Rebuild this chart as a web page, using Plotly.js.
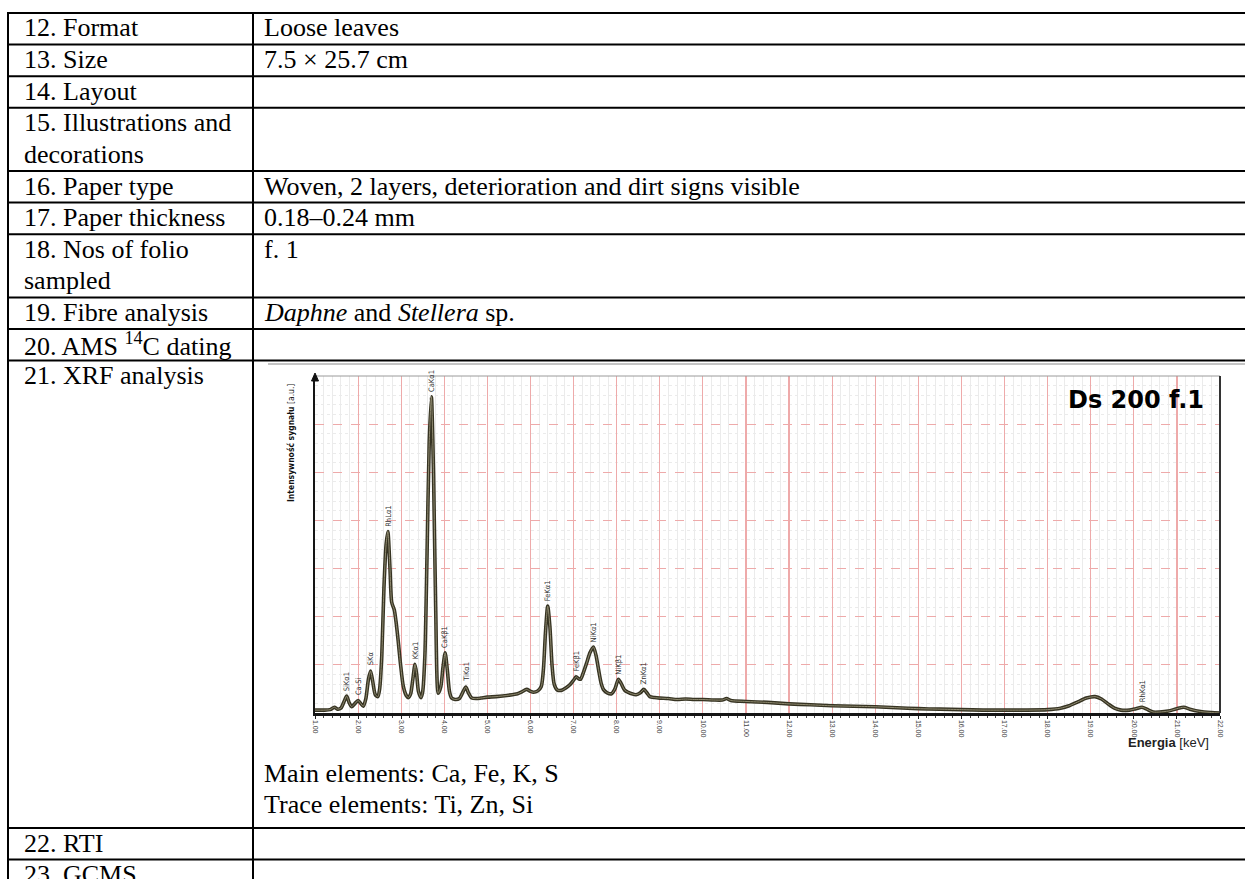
<!DOCTYPE html>
<html>
<head>
<meta charset="utf-8">
<script src="https://cdn.plot.ly/plotly-3.0.1.min.js"></script>
<style>
  html, body { margin: 0; padding: 0; background: #ffffff; }
  #chart { width: 1245px; height: 879px; }
</style>
</head>
<body>
<div id="chart"></div>
<script>
// ---------------- DATA ----------------
// XRF spectrum (energy in keV, intensity in arbitrary units, one unit = one major grid step)
const energy = [1.00, 1.20, 1.35, 1.45, 1.52, 1.60, 1.68, 1.735, 1.79, 1.85, 1.92, 2.00, 2.06, 2.12, 2.18, 2.24, 2.29, 2.34, 2.40, 2.46,
  2.50, 2.55, 2.60, 2.65, 2.69, 2.74, 2.78, 2.84, 2.88, 2.93, 2.98, 3.05, 3.12, 3.17, 3.22, 3.27, 3.32, 3.36, 3.40, 3.46,
  3.50, 3.55, 3.60, 3.65, 3.70, 3.75, 3.80, 3.86, 3.92, 3.97, 4.02, 4.07, 4.12, 4.17, 4.25, 4.35, 4.44, 4.50, 4.56, 4.64,
  4.75, 4.85, 5.00, 5.20, 5.50, 5.70, 5.80, 5.91, 6.00, 6.07, 6.17, 6.25, 6.30, 6.35, 6.40, 6.45, 6.50, 6.55, 6.62, 6.72,
  6.82, 6.92, 7.00, 7.06, 7.12, 7.16, 7.22, 7.30, 7.38, 7.46, 7.52, 7.58, 7.64, 7.70, 7.78, 7.88, 7.96, 8.04, 8.10, 8.19,
  8.27, 8.35, 8.45, 8.55, 8.63, 8.70, 8.77, 8.88, 9.00, 9.20, 9.40, 9.60, 9.80, 10.00, 10.25, 10.45, 10.55, 10.65, 11.00, 11.50,
  12.00, 12.50, 13.00, 13.50, 14.00, 14.50, 15.00, 15.50, 16.00, 16.50, 17.00, 17.50, 18.00, 18.30, 18.50, 18.70, 18.90, 19.10, 19.25, 19.40,
  19.55, 19.70, 19.90, 20.05, 20.19, 20.30, 20.45, 20.60, 20.80, 21.00, 21.16, 21.30, 21.55, 21.80, 22.00];
const intensity = [0.06, 0.06, 0.07, 0.12, 0.08, 0.10, 0.25, 0.35, 0.22, 0.13, 0.19, 0.26, 0.20, 0.14, 0.30, 0.70, 0.87, 0.65, 0.38, 0.34,
  0.50, 1.20, 2.60, 3.50, 3.77, 3.00, 2.30, 2.14, 1.90, 1.50, 1.05, 0.55, 0.36, 0.32, 0.40, 0.70, 1.01, 0.80, 0.45, 0.32,
  0.45, 1.20, 3.30, 5.60, 6.57, 5.00, 2.20, 0.41, 0.55, 0.95, 1.25, 0.90, 0.45, 0.31, 0.28, 0.30, 0.45, 0.54, 0.42, 0.31,
  0.30, 0.31, 0.33, 0.34, 0.37, 0.40, 0.44, 0.49, 0.45, 0.43, 0.46, 0.55, 0.90, 1.70, 2.22, 1.80, 1.00, 0.60, 0.48, 0.47,
  0.52, 0.59, 0.68, 0.75, 0.71, 0.70, 0.82, 1.03, 1.25, 1.37, 1.20, 0.90, 0.62, 0.48, 0.42, 0.40, 0.50, 0.70, 0.62, 0.47,
  0.43, 0.40, 0.38, 0.42, 0.49, 0.42, 0.34, 0.32, 0.31, 0.30, 0.28, 0.29, 0.28, 0.28, 0.27, 0.27, 0.30, 0.26, 0.24, 0.22,
  0.19, 0.17, 0.15, 0.14, 0.13, 0.11, 0.09, 0.08, 0.07, 0.06, 0.06, 0.06, 0.07, 0.10, 0.15, 0.23, 0.31, 0.34, 0.29, 0.19,
  0.10, 0.06, 0.06, 0.09, 0.12, 0.08, 0.02, 0.02, 0.04, 0.09, 0.12, 0.08, 0.03, 0.01, 0.00];

// Peak identifications
const peakNames = ["SiKα1", "Ca-Si", "SKα", "RhLα1", "KKα1", "CaKα1", "CaKβ1", "TiKα1", "FeKα1", "FeKβ1", "NiKα1", "NiKβ1", "ZnKα1", "RhKα1"];
const peakKeV   = [1.735, 2.00, 2.29, 2.69, 3.32, 3.70, 4.02, 4.50, 6.40, 7.06, 7.46, 8.04, 8.63, 20.19];
const peakVal   = [0.35, 0.27, 0.88, 3.77, 1.01, 6.57, 1.25, 0.54, 2.22, 0.75, 1.37, 0.70, 0.49, 0.12];

// Table content
const fieldLabels = [["12. Format"], ["13. Size"], ["14. Layout"], ["15. Illustrations and", "decorations"],
  ["16. Paper type"], ["17. Paper thickness"], ["18. Nos of folio", "sampled"], ["19. Fibre analysis"],
  ["20. AMS <sup>14</sup>C dating"], ["21. XRF analysis"], ["22. RTI"], ["23. GCMS"]];
const fieldValues = [["Loose leaves"], ["7.5 × 25.7 cm"], [""], [""],
  ["Woven, 2 layers, deterioration and dirt signs visible"], ["0.18–0.24 mm"], ["f. 1"],
  ["<i>Daphne</i> and <i>Stellera</i> sp."], [""], [""], [""], [""]];
const xrfNotes = ["Main elements: Ca, Fe, K, S", "Trace elements: Ti, Zn, Si"];
const chartTitle = "Ds 200 f.1";
const xTitle = "<b>Energia</b> [keV]";
const yTitle = "<b>Intensywność sygnału</b> [a.u.]";

// ---------------- LAYOUT HELPERS ----------------
const W = 1245, H = 879;
const px = x => x / W;
const py = y => 1 - y / H;

const rowEdges = [13, 44.6, 76.2, 107.8, 171, 202.6, 234.2, 297.4, 329, 360.6, 828, 859.6, 891];
const LINE = 31.6;
const leftX = 8, divX = 253;
const txtL = 22, txtR = 262;
const serif = "Liberation Serif, Times New Roman, serif";
const narrow = "Liberation Sans Narrow, Arial Narrow, DejaVu Sans Condensed, sans-serif";

const shapes = [];
const annotations = [];

// table lines
rowEdges.forEach(y => {
  if (y < H) shapes.push({type: 'line', xref: 'paper', yref: 'paper', x0: px(leftX - 1), x1: px(W), y0: py(y), y1: py(y),
    line: {color: '#000', width: 2}});
});
[leftX, divX].forEach(x => {
  shapes.push({type: 'line', xref: 'paper', yref: 'paper', x0: px(x), x1: px(x), y0: py(12), y1: py(H),
    line: {color: '#000', width: 2}});
});
// picture frame top edge (embedded chart image)
shapes.push({type: 'line', xref: 'paper', yref: 'paper', x0: px(268), x1: px(W), y0: py(364), y1: py(364),
  line: {color: '#b0b0b0', width: 1.5}});

// table text
fieldLabels.forEach((lines, i) => {
  lines.forEach((t, k) => {
    annotations.push({xref: 'paper', yref: 'paper', x: px(txtL), y: py(rowEdges[i] + 15 + k * LINE),
      xanchor: 'left', yanchor: 'middle', showarrow: false, text: t, font: {family: serif, size: 26, color: '#000'}});
  });
});
fieldValues.forEach((lines, i) => {
  lines.forEach((t, k) => {
    if (!t) return;
    annotations.push({xref: 'paper', yref: 'paper', x: px(txtR), y: py(rowEdges[i] + 15 + k * LINE),
      xanchor: 'left', yanchor: 'middle', showarrow: false, text: t, font: {family: serif, size: 26, color: '#000'}});
  });
});
xrfNotes.forEach((t, k) => {
  annotations.push({xref: 'paper', yref: 'paper', x: px(txtR), y: py(773 + k * LINE),
    xanchor: 'left', yanchor: 'middle', showarrow: false, text: t, font: {family: serif, size: 26, color: '#000'}});
});

// chart frame
const pL = 315, pR = 1220, pT = 376, pB = 713;
shapes.push({type: 'line', xref: 'paper', yref: 'paper', x0: px(pL), x1: px(pR), y0: py(pT), y1: py(pT),
  line: {color: '#9a9a9a', width: 1}});
shapes.push({type: 'line', xref: 'paper', yref: 'paper', x0: px(pR), x1: px(pR), y0: py(pT), y1: py(pB),
  line: {color: '#333', width: 2}});
// arrow at top of y axis
shapes.push({type: 'path', xref: 'paper', yref: 'paper',
  path: `M ${px(pL - 3.5)} ${py(381)} L ${px(pL)} ${py(373)} L ${px(pL + 3.5)} ${py(381)} Z`,
  fillcolor: '#111', line: {color: '#111', width: 1}});

// chart texts
annotations.push({xref: 'paper', yref: 'paper', x: px(1206), y: py(400), xanchor: 'right', yanchor: 'middle',
  showarrow: false, text: '<b>' + chartTitle + '</b>', font: {family: 'DejaVu Sans, sans-serif', size: 24, color: '#000'}});
annotations.push({xref: 'paper', yref: 'paper', x: px(1211), y: py(742), xanchor: 'right', yanchor: 'middle',
  showarrow: false, text: xTitle, font: {family: 'Liberation Sans, Arial, sans-serif', size: 13, color: '#222'}});
annotations.push({xref: 'paper', yref: 'paper', x: px(291), y: py(443), xanchor: 'center', yanchor: 'middle',
  showarrow: false, textangle: -90, text: yTitle, font: {family: narrow, size: 8.5, color: '#111'}});

peakNames.forEach((n, i) => {
  annotations.push({xref: 'x', yref: 'y', x: peakKeV[i], y: peakVal[i], xanchor: 'center', yanchor: 'bottom',
    yshift: 3, showarrow: false, textangle: -90, text: n, font: {family: narrow, size: 7.5, color: '#333'}});
});

// ---------------- TRACES ----------------
const traces = [
  {x: energy, y: intensity, type: 'scatter', mode: 'lines', line: {color: '#363322', width: 3.6, shape: 'spline', smoothing: 0.7},
   hoverinfo: 'skip'},
  {x: energy, y: intensity, type: 'scatter', mode: 'lines', line: {color: '#8f8a70', width: 1, shape: 'spline', smoothing: 0.7},
   hoverinfo: 'skip'}
];

const layout = {
  width: W, height: H,
  margin: {l: 0, r: 0, t: 0, b: 0, pad: 0},
  paper_bgcolor: '#ffffff', plot_bgcolor: '#ffffff',
  showlegend: false,
  xaxis: {
    domain: [px(pL), px(pR)], range: [1, 22], tick0: 1, dtick: 1, tickformat: '.2f', tickangle: 90,
    tickfont: {family: 'Liberation Sans, Arial, sans-serif', size: 7, color: '#444'},
    showgrid: true, gridcolor: '#eeaaaa', gridwidth: 1.2,
    showline: true, linecolor: '#151515', linewidth: 2.5,
    ticks: 'outside', ticklen: 3, tickcolor: '#222', tickwidth: 1,
    minor: {tick0: 1, dtick: 0.2, showgrid: true, gridcolor: '#ebebeb', gridwidth: 1, ticks: 'outside', ticklen: 2, tickcolor: '#444'},
    zeroline: false, fixedrange: true
  },
  yaxis: {
    domain: [py(pB), py(pT)], range: [0, 7], tick0: 0, dtick: 1, showticklabels: false,
    showgrid: true, gridcolor: '#eeaaaa', gridwidth: 1.2, griddash: 'dash',
    minor: {tick0: 0, dtick: 0.2, showgrid: true, gridcolor: '#ebebeb', gridwidth: 1, griddash: 'dot'},
    showline: true, linecolor: '#151515', linewidth: 2, ticks: '',
    zeroline: false, fixedrange: true
  },
  shapes: shapes,
  annotations: annotations
};

Plotly.newPlot('chart', traces, layout, {displayModeBar: false, staticPlot: true});
</script>
</body>
</html>
